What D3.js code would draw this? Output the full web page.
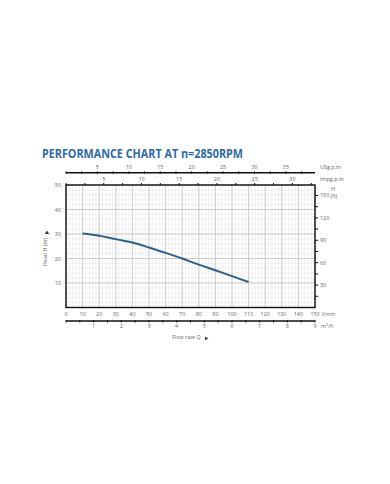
<!DOCTYPE html>
<html><head><meta charset="utf-8">
<script src="https://cdn.jsdelivr.net/npm/d3@7"></script>
<style>body{margin:0;background:#fff}svg{display:block}</style>
</head><body>
<svg id="c" width="390" height="484"></svg>
<script>
const flowLmin = [10, 20, 30, 40, 50, 60, 70, 80, 90, 100, 110];
const headM = [30.2, 29.3, 27.9, 26.5, 24.5, 22.3, 20.0, 17.5, 15.2, 12.8, 10.4];
const xTicksLmin = [0,10,20,30,40,50,60,70,80,90,100,110,120,130,140,150];
const yTicksM = [10,20,30,40,50];
const yTicksFt = [30,60,90,120,150];
const usgpmTicks = [5,10,15,20,25,30,35];
const impgpmTicks = [5,10,15,20,25,30];
const m3hTicks = [1,2,3,4,5,6,7,8,9];

const svg = d3.select("#c");
const L=66,R=315,T=185,B=307.5;
const x = d3.scaleLinear().domain([0,150]).range([L,R]);
const y = d3.scaleLinear().domain([0,50]).range([B,T]);
const font = "'Open Sans', 'DejaVu Sans', sans-serif";
const tc = "#666";
const fs = 5.4;

// title
svg.append("text").attr("x",42).attr("y",157.5).text("PERFORMANCE CHART AT n=2850RPM")
  .attr("font-family",font).attr("font-weight","bold").attr("font-size",12)
  .attr("textLength",201).attr("lengthAdjust","spacingAndGlyphs").attr("fill","#2e6aa8");

// grid minor
const g = svg.append("g");
d3.range(0,150.1,2).forEach(v=>g.append("line").attr("x1",x(v)).attr("x2",x(v)).attr("y1",T).attr("y2",B).attr("stroke","#e2e2e2").attr("stroke-width",0.5));
d3.range(0,50.1,2).forEach(v=>g.append("line").attr("y1",y(v)).attr("y2",y(v)).attr("x1",L).attr("x2",R).attr("stroke","#e2e2e2").attr("stroke-width",0.5));
d3.range(0,150.1,10).forEach(v=>g.append("line").attr("x1",x(v)).attr("x2",x(v)).attr("y1",T).attr("y2",B).attr("stroke","#c4c4c4").attr("stroke-width",0.8));
d3.range(0,50.1,10).forEach(v=>g.append("line").attr("y1",y(v)).attr("y2",y(v)).attr("x1",L).attr("x2",R).attr("stroke","#c4c4c4").attr("stroke-width",0.8));

// border
svg.append("rect").attr("x",L).attr("y",T).attr("width",R-L).attr("height",B-T).attr("fill","none").attr("stroke","#111").attr("stroke-width",1.4);

// curve
const line = d3.line().x((d,i)=>x(flowLmin[i])).y(d=>y(d)).curve(d3.curveMonotoneX);
svg.append("path").attr("d",line(headM)).attr("fill","none").attr("stroke","#2f5f8f").attr("stroke-width",2);

function txt(xx,yy,s,anchor,size){return svg.append("text").attr("x",xx).attr("y",yy).text(s)
  .attr("font-family",font).attr("font-size",size||fs).attr("fill",tc).attr("text-anchor",anchor||"middle");}

// bottom l/min labels
xTicksLmin.forEach(v=>txt(x(v),315.5,v));
txt(322,315.5,"l/min","start");
// left labels
yTicksM.forEach(v=>txt(L-5,y(v)+2,v,"end"));
// left axis title
svg.append("text").attr("transform",`translate(47,252) rotate(-90)`).text("Head H (m)")
  .attr("font-family",font).attr("font-size",fs).attr("fill",tc).attr("text-anchor","middle");
svg.append("path").attr("d","M44.8,234 L47,230.5 L49.2,234 Z").attr("fill","#333");

// right ft axis
const yft = d3.scaleLinear().domain([0,50/0.3048]).range([B,T]);
d3.range(15,160,15).forEach(v=>svg.append("line").attr("x1",R).attr("x2",R+3).attr("y1",yft(v)).attr("y2",yft(v)).attr("stroke","#111").attr("stroke-width",1));
yTicksFt.forEach(v=>txt(R+5,yft(v)+2,v,"start"));
txt(333,191,"H","middle",fs);
txt(334,197.6,"(ft)","middle",fs);

// top USgpm axis
const yUS=172.8;
const xus = d3.scaleLinear().domain([0,150/3.785]).range([L,R]);
svg.append("line").attr("x1",L).attr("x2",R).attr("y1",yUS).attr("y2",yUS).attr("stroke","#111").attr("stroke-width",1.4);
d3.range(0,39.7,2.5).forEach(v=>svg.append("line").attr("x1",xus(v)).attr("x2",xus(v)).attr("y1",yUS-1.5).attr("y2",yUS+1).attr("stroke","#111").attr("stroke-width",1));
usgpmTicks.forEach(v=>txt(xus(v),168.5,v));
txt(320,168.5,"USg.p.m","start");

// Imp gpm ticks on top border
const xim = d3.scaleLinear().domain([0,150/4.546]).range([L,R]);
d3.range(0,33,2.5).forEach(v=>svg.append("line").attr("x1",xim(v)).attr("x2",xim(v)).attr("y1",T-2).attr("y2",T).attr("stroke","#111").attr("stroke-width",1));
impgpmTicks.forEach(v=>txt(xim(v),180.5,v));
txt(320,180.5,"Impg.p.m","start");

// bottom m3/h axis
const yM=321;
const xm = d3.scaleLinear().domain([0,9]).range([L,R]);
svg.append("line").attr("x1",L).attr("x2",R).attr("y1",yM).attr("y2",yM).attr("stroke","#111").attr("stroke-width",1.4);
d3.range(0,9.01,0.5).forEach(v=>svg.append("line").attr("x1",xm(v)).attr("x2",xm(v)).attr("y1",yM-1).attr("y2",yM+1.5).attr("stroke","#111").attr("stroke-width",1));
m3hTicks.forEach(v=>txt(xm(v),328,v));
svg.append("text").attr("x",321).attr("y",328).attr("font-family",font).attr("font-size",fs).attr("fill",tc)
  .html('m<tspan dy="-2" font-size="3.8">3</tspan><tspan dy="2">/h</tspan>');

// flow rate label
txt(172,339,"Flow rate Q","start");
svg.append("path").attr("d","M205,336.8 L208.5,338.5 L205,340.2 Z").attr("fill","#333");
</script>
</body></html>
